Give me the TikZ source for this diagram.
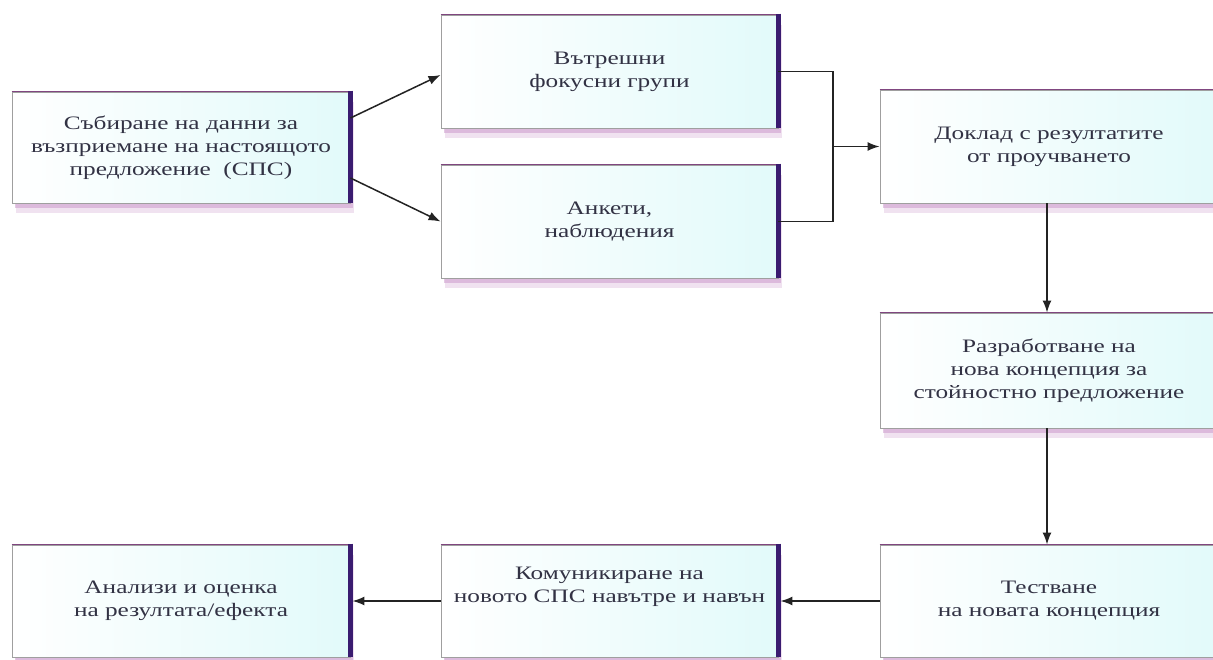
\documentclass[tikz,border=0pt]{standalone}
\usepackage{fontspec}
\setmainfont{Liberation Serif}[FakeStretch=1.33]
\usetikzlibrary{shadows,arrows.meta}
\definecolor{txt}{RGB}{50,50,68}
\definecolor{edgepurple}{RGB}{58,28,112}
\definecolor{boxcyan}{RGB}{226,250,250}
\definecolor{lineblk}{RGB}{35,35,35}
\tikzset{
  box/.style={draw=gray!75, line width=0.9pt, left color=white, right color=boxcyan,
    minimum width=337pt, minimum height=112pt, inner sep=0pt, align=center,
    text=txt, font=\fontsize{19}{23}\selectfont,
    drop shadow={fill=violet!22, shadow xshift=4pt, shadow yshift=-10pt},
    drop shadow={fill=violet!42, shadow xshift=3pt, shadow yshift=-5pt}},
  rightedge/.style={draw=edgepurple, line width=4.5pt},
  topedge/.style={draw=gray!55!violet, line width=1.6pt},
  conn/.style={draw=lineblk, line width=1.5pt},
  arr/.style={conn, -{Latex[length=12pt,width=9pt]}}
}
\begin{document}
\begin{tikzpicture}[x=1pt,y=-1pt]
\clip (0,0) rectangle (1213,659);
\fill[white] (0,0) rectangle (1213,659);
% nodes
\node[box, minimum width=338pt, minimum height=111pt] (b1) at (181,147.5)
  {\fontsize{19}{20}\selectfont Събиране на данни за\\ възприемане на настоящото\\ предложение~~(СПС)};
\node[box, minimum height=113pt] (b2) at (609.5,71.5) {Вътрешни\\ фокусни групи};
\node[box, minimum height=113pt] (b3) at (609.5,221.5) {Анкети,\\ наблюдения};
\node[box, minimum width=338pt, minimum height=113pt] (b4) at (1049,146.5) {Доклад с резултатите\\ от проучването};
\node[box, minimum width=338pt, minimum height=115pt] (b5) at (1049,370.5) {Разработване на\\ нова концепция за\\ стойностно предложение};
\node[box, minimum width=338pt, minimum height=112pt] (b6) at (1049,601) {Тестване\\ на новата концепция};
\node[box, minimum height=112pt] (b7) at (609.5,601) {Комуникиране на\\ новото СПС навътре и навън\\[10pt]};
\node[box, minimum width=338pt, minimum height=112pt] (b8) at (181,601) {Анализи и оценка\\ на резултата/ефекта};
% edges of boxes
\foreach \n in {b1,b2,b3,b4,b5,b6,b7,b8}{
  \draw[topedge] (\n.north west) -- (\n.north east);
  \draw[rightedge] ([yshift=1pt]\n.north east) -- (\n.south east);
}
% connectors
\coordinate (j) at (833,146.5);
\draw[arr] ([yshift=29.5pt]b1.east) -- ([yshift=-3.5pt]b2.west);
\draw[arr] ([yshift=-30.5pt]b1.east) -- (b3.west);
\draw[conn] (b2.east) -| (j) |- (b3.east);
\draw[arr] (j) -- (b4.west);
\draw[arr] ([xshift=-2pt]b4.south) -- ([xshift=-2pt]b5.north);
\draw[arr] ([xshift=-2pt]b5.south) -- ([xshift=-2pt]b6.north);
\draw[arr] (b6.west) -- ([xshift=2pt]b7.east);
\draw[arr] (b7.west) -- ([xshift=2pt]b8.east);
\end{tikzpicture}
\end{document}
